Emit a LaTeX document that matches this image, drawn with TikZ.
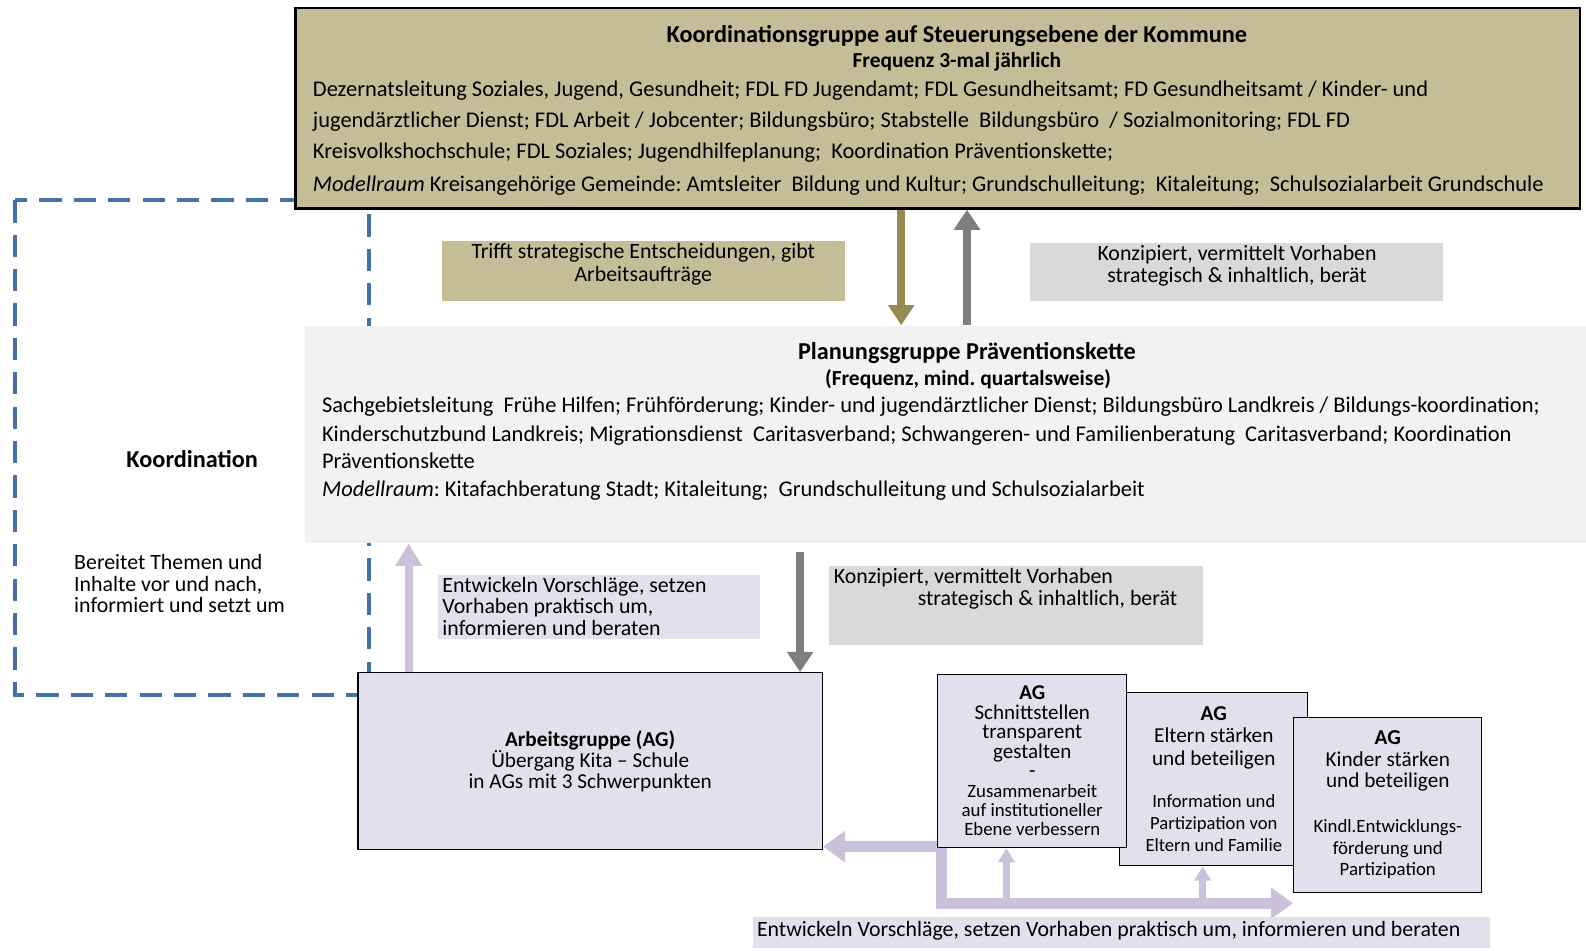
\documentclass[tikz,border=0pt]{standalone}
\usepackage{fontspec}
\setmainfont{Carlito}
\usetikzlibrary{positioning}
\usetikzlibrary{arrows.meta,backgrounds}

\definecolor{khaki}{HTML}{C4BD97}
\definecolor{khakidark}{HTML}{948A54}
\definecolor{greylabel}{HTML}{D9D9D9}
\definecolor{greyarrow}{HTML}{7F7F7F}
\definecolor{planfill}{HTML}{F2F2F2}
\definecolor{lilac}{HTML}{E4DFEC}
\definecolor{lilacarrow}{HTML}{CCC1DA}
\definecolor{frameblue}{HTML}{4472A8}

\newcommand{\tightskip}{\lineskiplimit=-10pt\relax}
\frenchspacing

\begin{document}
\begin{tikzpicture}[x=0.5pt,y=-0.5pt]
\tikzstyle{panel}=[rectangle,inner sep=0pt]
\tikzstyle{txt}=[inner sep=0pt,anchor=base west,font=\fontsize{10.8}{12.6}\selectfont]
\tikzstyle{ctxt}=[txt,anchor=base]
\tikzstyle{boxtxt}=[txt,font=\fontsize{11.1}{13}\selectfont]
\tikzstyle{head}=[inner sep=0pt,anchor=base,font=\fontsize{12}{14}\selectfont\bfseries]
\tikzstyle{subhead}=[inner sep=0pt,anchor=base,font=\fontsize{10.6}{12}\selectfont\bfseries]
\tikzstyle{agbox}=[panel,fill=lilac,draw=black,line width=0.6pt,align=center]
\tikzstyle{khakiarr}=[draw=khakidark,line width=4pt,-{Triangle[width=12.5pt,length=10pt]}]
\tikzstyle{greyarr}=[draw=greyarrow,line width=4pt,-{Triangle[width=12.5pt,length=10pt]}]
\tikzstyle{lilacarr}=[draw=lilacarrow,line width=4pt,-{Triangle[width=12.5pt,length=11pt]}]
\tikzstyle{lilacthick}=[draw=lilacarrow,line width=5.5pt,{Triangle[width=15pt,length=11pt]}-{Triangle[width=15pt,length=11pt]}]
\tikzstyle{lilacthin}=[draw=lilacarrow,line width=3.5pt,-{Triangle[width=8pt,length=7pt]}]

\useasboundingbox (0,0) rectangle (1568,940);
\begin{scope}[on background layer]
\fill[white] (0,0) rectangle (1568,940);
\end{scope}

% \draw[help lines] (0,0) grid (1568,940);

\draw[frameblue,line width=2pt,dash pattern=on 11pt off 6pt] (15,198) rectangle (365,687);

\node[panel,fill=khaki,draw=black,line width=1.2pt,minimum width=635pt,minimum height=99pt] (koord) at (927,107) {};
\node[head] (koordTitle) at (946,42) {Koordinationsgruppe auf Steuerungsebene der Kommune};
\node[subhead] (koordFreq) at (946,67) {Frequenz 3-mal jährlich};
\node[boxtxt] (koordL1) at (309,95) {Dezernatsleitung Soziales, Jugend, Gesundheit; FDL FD Jugendamt; FDL Gesundheitsamt; FD Gesundheitsamt / Kinder- und};
\node[boxtxt] (koordL2) at (309,126) {jugendärztlicher Dienst; FDL Arbeit / Jobcenter; Bildungsbüro; Stabstelle\ \ Bildungsbüro\ \ / Sozialmonitoring; FDL FD};
\node[boxtxt] (koordL3) at (309,157) {Kreisvolkshochschule; FDL Soziales; Jugendhilfeplanung;\ \ Koordination Präventionskette;};
\node[boxtxt] (koordL4) at (309,189) {\textit{Modellraum} Kreisangehörige Gemeinde: Amtsleiter\ \ Bildung und Kultur; Grundschulleitung;\ \ Kitaleitung;\ \ Schulsozialarbeit Grundschule};

\node[panel,fill=planfill,minimum width=633pt,minimum height=107.5pt] (plan) at (935,429.5) {};
\node[head] (planTitle) at (956,355) {Planungsgruppe Präventionskette};
\node[subhead] (planFreq) at (957,381) {(Frequenz, mind. quartalsweise)};
\node[boxtxt] (planL1) at (318,408) {Sachgebietsleitung\ \ Frühe Hilfen; Frühförderung; Kinder- und jugendärztlicher Dienst; Bildungsbüro Landkreis / Bildungs-koordination;};
\node[boxtxt] (planL2) at (318,436) {Kinderschutzbund Landkreis; Migrationsdienst\ \ Caritasverband; Schwangeren- und Familienberatung\ \ Caritasverband; Koordination};
\node[boxtxt] (planL3) at (318,463) {Präventionskette};
\node[boxtxt] (planL4) at (318,491) {\textit{Modellraum}: Kitafachberatung Stadt; Kitaleitung;\ \ Grundschulleitung und Schulsozialarbeit};

\node[inner sep=0pt,font=\fontsize{12}{14}\selectfont\bfseries] (koordLabel) at (190,454) {Koordination};
\node[txt] (koordA) at (73,563) {Bereitet Themen und};
\node[txt] (koordB) at (73,585) {Inhalte vor und nach,};
\node[txt] (koordC) at (73,606) {informiert und setzt um};

\node[panel,fill=khaki,minimum width=199pt,minimum height=30pt] (trifft) at (636,268) {};
\node[ctxt] (trifftA) at (636,256) {Trifft strategische Entscheidungen, gibt};
\node[ctxt] (trifftB) at (636,278) {Arbeitsaufträge};

\node[panel,fill=greylabel,minimum width=204.5pt,minimum height=29pt] (konzOben) at (1222.5,269) {};
\node[ctxt] (konzObenA) at (1223,258) {Konzipiert, vermittelt Vorhaben};
\node[ctxt] (konzObenB) at (1223,279) {strategisch \& inhaltlich, berät};

\node[panel,fill=lilac,minimum width=159pt,minimum height=32pt] (entwLinks) at (592,600) {};
\node[txt] (entwLinksA) at (437,586) {Entwickeln Vorschläge, setzen};
\node[txt] (entwLinksB) at (437,607) {Vorhaben praktisch um,};
\node[txt] (entwLinksC) at (437,628) {informieren und beraten};

\node[panel,fill=greylabel,minimum width=184.5pt,minimum height=39pt] (konzUnten) at (1004.5,599) {};
\node[txt] (konzUntenA) at (824,577) {Konzipiert, vermittelt Vorhaben};
\node[txt] (konzUntenB) at (907,599) {strategisch \& inhaltlich, berät};

\node[panel,fill=lilac,minimum width=364.5pt,minimum height=15pt] (entwUnten) at (1108.5,922) {};
\node[txt] (entwUntenA) at (748,926) {Entwickeln Vorschläge, setzen Vorhaben praktisch um, informieren und beraten};

\node[agbox,minimum width=229.5pt,minimum height=87.5pt,font=\fontsize{10.5}{10.5}\selectfont] (agmain) at (583.5,752.5) {\textbf{Arbeitsgruppe (AG)}\\Übergang Kita – Schule\\in AGs mit 3 Schwerpunkten};

\node[agbox,minimum width=93pt,minimum height=85.5pt,font=\fontsize{10.5}{11}\selectfont\tightskip] (ag2) at (1200,770.5) {\textbf{AG}\\Eltern stärken\\und beteiligen\\[10pt]{\fontsize{9.2}{11}\selectfont Information und}\\{\fontsize{9.2}{11}\selectfont Partizipation von}\\{\fontsize{9.2}{11}\selectfont Eltern und Familie}};
\node[agbox,minimum width=93.5pt,minimum height=85.5pt,font=\fontsize{10.4}{9.6}\selectfont\tightskip] (ag1) at (1020.5,752.5) {\textbf{AG}\\Schnittstellen\\transparent\\gestalten\\-\\{\fontsize{9.3}{9.6}\selectfont Zusammenarbeit}\\{\fontsize{9.3}{9.6}\selectfont auf institutioneller}\\{\fontsize{9.3}{9.6}\selectfont Ebene verbessern}};
\node[agbox,minimum width=93pt,minimum height=86.5pt,font=\fontsize{10.5}{10.5}\selectfont\tightskip] (ag3) at (1372,795.5) {\textbf{AG}\\Kinder stärken\\und beteiligen\\[12pt]{\fontsize{9.3}{10.5}\selectfont Kindl.Entwicklungs-}\\{\fontsize{9.3}{10.5}\selectfont förderung und}\\{\fontsize{9.3}{10.5}\selectfont Partizipation}};

\coordinate (kx) at (891,0);
\coordinate (gx) at (956,0);
\coordinate (px) at (404,0);
\coordinate (gdx) at (791,0);
\coordinate (jn) at (931,837);
\coordinate (jb) at (931,893);
\coordinate (ux1) at (995,0);
\coordinate (ux2) at (1189,0);

\draw[khakiarr] (koord.south -| kx) -- (plan.north -| kx);
\draw[greyarr] (plan.north -| gx) -- (koord.south -| gx);
\draw[lilacarr] (agmain.north -| px) -- (plan.south -| px);
\draw[greyarr,shorten <=4pt] (plan.south -| gdx) -- (agmain.north -| gdx);

\begin{scope}[on background layer]
\draw[lilacthick] (agmain.east |- jn) -- (jn) |- (ag3.west |- jb);
\draw[lilacthin] (jb -| ux1) -- (ag1.south -| ux1);
\draw[lilacthin] (jb -| ux2) -- (ag2.south -| ux2);
\end{scope}
\end{tikzpicture}
\end{document}
